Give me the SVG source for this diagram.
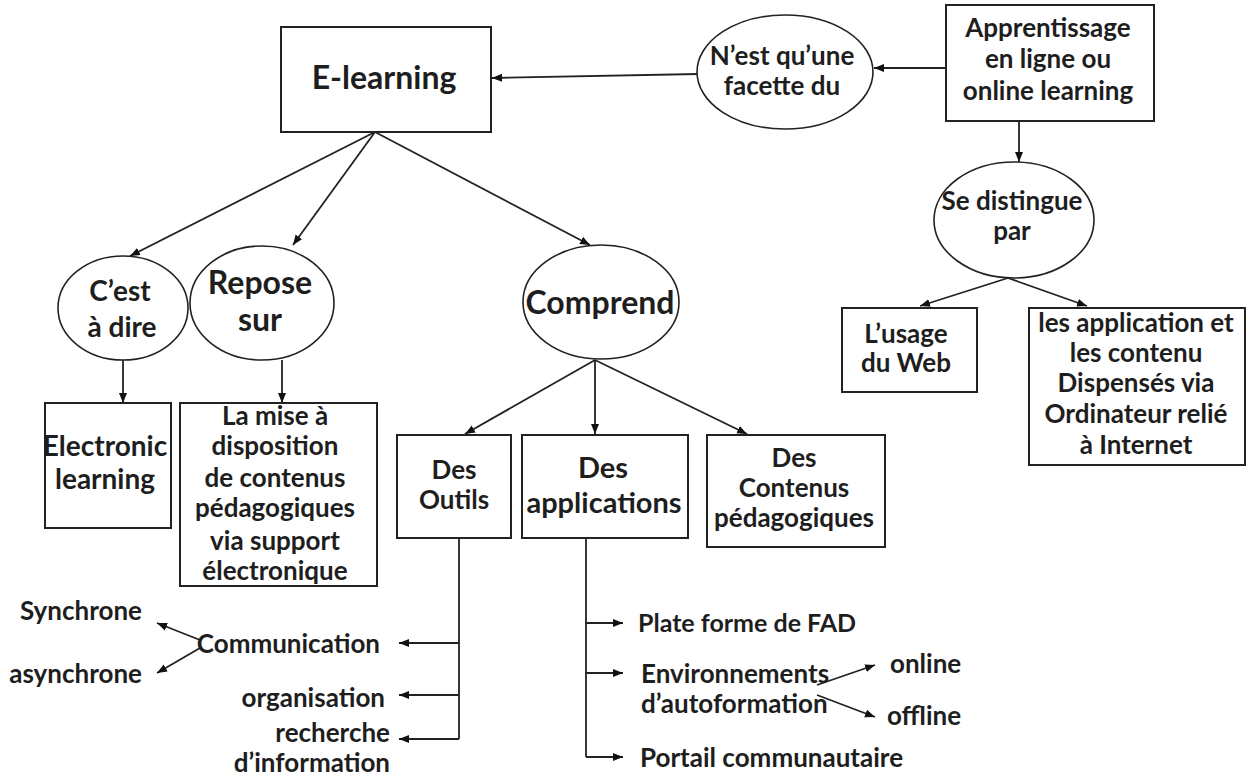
<svg xmlns="http://www.w3.org/2000/svg" width="1246" height="776" viewBox="0 0 1246 776">
<defs>
<marker id="ah" viewBox="0 0 10 10" refX="10" refY="5" markerWidth="10" markerHeight="10" markerUnits="userSpaceOnUse" orient="auto">
<path d="M0,1 L10,5 L0,9 Z" fill="#111"/>
</marker>
<style>
.box{fill:#fff;stroke:#222;stroke-width:2}
.ell{fill:#fff;stroke:#222;stroke-width:1.6}
.c{fill:none;stroke:#222;stroke-width:1.8}
.a{marker-end:url(#ah)}
text{font-family:Lato,"Open Sans","Liberation Sans",sans-serif;font-weight:bold;fill:#1e1e1e;text-anchor:middle}
.s25{font-size:25px}
.s26{font-size:26px}
.s28{font-size:28px}
.s29{font-size:29px}
.s32{font-size:32px}
.l{text-anchor:start}
.r{text-anchor:end}
</style>
</defs>
<rect width="1246" height="776" fill="#fff"/>

<g id="connectors">
<line class="c a" x1="698" y1="74" x2="492" y2="78"/>
<line class="c a" x1="946" y1="68" x2="874" y2="68"/>
<line class="c a" x1="1019" y1="121" x2="1019" y2="162"/>
<line class="c a" x1="1008" y1="278" x2="920" y2="306"/>
<line class="c a" x1="1008" y1="278" x2="1087" y2="306"/>
<line class="c a" x1="375" y1="132" x2="130" y2="256"/>
<line class="c a" x1="375" y1="132" x2="293" y2="245"/>
<line class="c a" x1="375" y1="132" x2="590" y2="245"/>
<line class="c a" x1="123" y1="360" x2="123" y2="403"/>
<line class="c a" x1="282" y1="360" x2="282" y2="403"/>
<line class="c a" x1="595" y1="360" x2="465" y2="434"/>
<line class="c a" x1="595" y1="360" x2="595" y2="434"/>
<line class="c a" x1="595" y1="360" x2="747" y2="434"/>
<path class="c" d="M459,538 V739"/>
<line class="c a" x1="459" y1="643" x2="399" y2="643"/>
<line class="c a" x1="459" y1="695" x2="399" y2="695"/>
<line class="c a" x1="459" y1="739" x2="399" y2="739"/>
<line class="c a" x1="200" y1="640" x2="157" y2="623"/>
<line class="c a" x1="200" y1="648" x2="157" y2="673"/>
<path class="c" d="M586,538 V757"/>
<line class="c a" x1="586" y1="623" x2="623" y2="623"/>
<line class="c a" x1="586" y1="673" x2="623" y2="673"/>
<line class="c a" x1="586" y1="757" x2="623" y2="757"/>
<line class="c a" x1="817" y1="685" x2="875" y2="665"/>
<line class="c a" x1="817" y1="695" x2="875" y2="717"/>
</g>

<g id="elearning">
<rect class="box" x="281" y="27" width="210" height="105"/>
<text class="s32" x="384" y="89">E-learning</text>
</g>

<g id="facette">
<ellipse class="ell" cx="785" cy="72" rx="88" ry="57"/>
<text class="s26" x="782" y="65">N’est qu’une</text>
<text class="s26" x="782" y="95">facette du</text>
</g>

<g id="apprentissage">
<rect class="box" x="946" y="5" width="208" height="116"/>
<text class="s26" x="1048" y="37">Apprentissage</text>
<text class="s26" x="1048" y="68">en ligne ou</text>
<text class="s26" x="1048" y="100">online learning</text>
</g>

<g id="distingue">
<ellipse class="ell" cx="1014" cy="220" rx="80" ry="58"/>
<text class="s26" x="1012" y="210">Se distingue</text>
<text class="s26" x="1012" y="240">par</text>
</g>

<g id="usage">
<rect class="box" x="842" y="308" width="135" height="84"/>
<text class="s26" x="906" y="343">L’usage</text>
<text class="s26" x="906" y="372">du Web</text>
</g>

<g id="applications-contenu">
<rect class="box" x="1029" y="308" width="216" height="157"/>
<text class="s26" x="1136" y="332">les application et</text>
<text class="s26" x="1136" y="362">les contenu</text>
<text class="s26" x="1136" y="392">Dispensés via</text>
<text class="s26" x="1136" y="423">Ordinateur relié</text>
<text class="s26" x="1136" y="454">à Internet</text>
</g>

<g id="cestadire">
<ellipse class="ell" cx="123" cy="308" rx="65" ry="52"/>
<text class="s28" x="120" y="301">C’est</text>
<text class="s28" x="122" y="337">à dire</text>
</g>

<g id="repose">
<ellipse class="ell" cx="262" cy="303" rx="72" ry="57"/>
<text class="s32" x="260" y="294">Repose</text>
<text class="s32" x="260" y="331">sur</text>
</g>

<g id="comprend">
<ellipse class="ell" cx="601" cy="302" rx="78" ry="57"/>
<text class="s32" x="600" y="314">Comprend</text>
</g>

<g id="electronic">
<rect class="box" x="45" y="403" width="126" height="125"/>
<text class="s28" x="105" y="456">Electronic</text>
<text class="s28" x="105" y="489">learning</text>
</g>

<g id="lamise">
<rect class="box" x="180" y="403" width="197" height="183"/>
<text class="s26" x="275" y="425">La mise à</text>
<text class="s26" x="275" y="455">disposition</text>
<text class="s26" x="275" y="487">de contenus</text>
<text class="s26" x="275" y="517">pédagogiques</text>
<text class="s26" x="275" y="550">via support</text>
<text class="s26" x="275" y="580">électronique</text>
</g>

<g id="outils">
<rect class="box" x="397" y="435" width="114" height="103"/>
<text class="s26" x="454" y="479">Des</text>
<text class="s26" x="454" y="509">Outils</text>
</g>

<g id="desapplications">
<rect class="box" x="522" y="435" width="166" height="103"/>
<text class="s29" x="603" y="478">Des</text>
<text class="s29" x="604" y="513">applications</text>
</g>

<g id="contenus">
<rect class="box" x="707" y="435" width="178" height="112"/>
<text class="s26" x="794" y="467">Des</text>
<text class="s26" x="794" y="497">Contenus</text>
<text class="s26" x="794" y="527">pédagogiques</text>
</g>

<g id="outils-items">
<text class="s26 r" x="142" y="620">Synchrone</text>
<text class="s26 r" x="142" y="683">asynchrone</text>
<text class="s26 r" x="380" y="653">Communication</text>
<text class="s26 r" x="385" y="707">organisation</text>
<text class="s26 r" x="390" y="742">recherche</text>
<text class="s26 r" x="390" y="772">d’information</text>
</g>

<g id="applications-items">
<text class="s25 l" x="638" y="632">Plate forme de FAD</text>
<text class="s26 l" x="641" y="683">Environnements</text>
<text class="s26 l" x="641" y="713">d’autoformation</text>
<text class="s26 l" x="890" y="673">online</text>
<text class="s26 l" x="887" y="725">offline</text>
<text class="s26 l" x="640" y="767">Portail communautaire</text>
</g>
</svg>
